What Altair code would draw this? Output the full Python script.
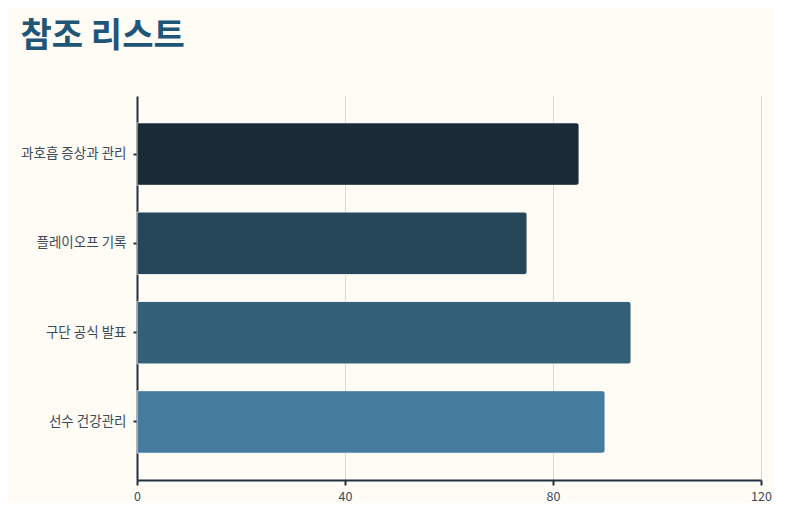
import altair as alt
import pandas as pd

topics = ["과호흡 증상과 관리", "플레이오프 기록", "구단 공식 발표", "선수 건강관리"]
counts = [85, 75, 95, 90]
shades = ["#1a2a37", "#264659", "#356178", "#457b9d"]

df = pd.DataFrame({"topic": topics, "count": counts})

font = "Noto Sans CJK KR"

bars = alt.Chart(df).mark_bar(
    cornerRadiusEnd=3,
    stroke="#ffffff",
    strokeWidth=1,
    strokeOpacity=0.5,
).encode(
    y=alt.Y("topic:N", sort=topics, title=None,
            scale=alt.Scale(paddingInner=0.3, paddingOuter=0.3),
            axis=alt.Axis(grid=False, domainWidth=2, tickSize=4, tickWidth=2,
                          labelPadding=7)),
    x=alt.X("count:Q", title=None,
            scale=alt.Scale(domain=[0, 120], nice=False),
            axis=alt.Axis(values=[0, 40, 80, 120], grid=True, domainWidth=2,
                          tickSize=5, tickWidth=2, labelPadding=5, labelFlush=False)),
    color=alt.Color("topic:N", scale=alt.Scale(domain=topics, range=shades), legend=None),
).properties(
    width=624,
    height=384,
    padding={"left": 12, "top": 12, "right": 2, "bottom": 0},
    background="#fffbf5",
    title=alt.TitleParams("참조 리스트", anchor="start", frame="bounds", font=font,
                          fontSize=34, fontWeight="bold", color="#1f5577", offset=42),
)

chart = bars.configure_view(stroke=None).configure_axis(
    labelFont=font,
    labelFontSize=13.5,
    labelColor="#3d4b59",
    domainColor="#22313f",
    tickColor="#22313f",
    gridColor="#d8d8d8",
    gridWidth=1,
).configure_axisX(labelFontSize=12.5)

chart.save("out.html", embed_options={"renderer": "svg", "actions": False})
